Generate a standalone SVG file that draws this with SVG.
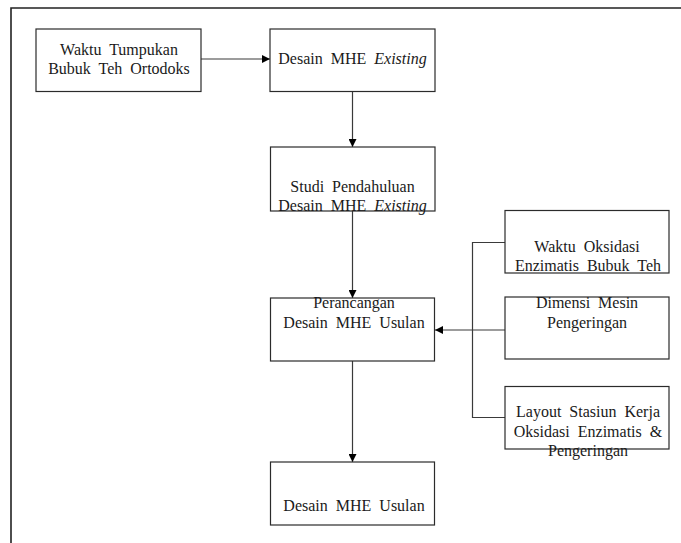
<svg xmlns="http://www.w3.org/2000/svg" width="681" height="543" viewBox="0 0 681 543">
<style>
.box{fill:#fff;stroke:#2b2b2b;stroke-width:1.2}
.t{font-size:16px;fill:#1a1a1a;text-anchor:middle;word-spacing:4px}
.i{font-style:italic}
.c{fill:none;stroke:#3a3a3a;stroke-width:1.2}
</style>
<defs>
<marker id="ah" viewBox="0 0 10 10" refX="10" refY="5" markerWidth="8" markerHeight="8" markerUnits="userSpaceOnUse" orient="auto">
<path d="M0,0 L10,5 L0,10 z" fill="#000"/>
</marker>
</defs>
<rect width="681" height="543" fill="#fff"/>
<g id="frame">
<path d="M11,543 V8 H681" fill="none" stroke="#222" stroke-width="1.6"/>
</g>
<g id="connectors">
<line class="c" x1="201" y1="59" x2="270" y2="59" marker-end="url(#ah)"/>
<line class="c" x1="352.5" y1="92" x2="352.5" y2="147" marker-end="url(#ah)"/>
<line class="c" x1="352.5" y1="211" x2="352.5" y2="298" marker-end="url(#ah)"/>
<line class="c" x1="352.5" y1="361" x2="352.5" y2="462" marker-end="url(#ah)"/>
<path class="c" d="M505,242.5 H472.5 V417.5 H505"/>
<line class="c" x1="505" y1="330" x2="435" y2="330" marker-end="url(#ah)"/>
</g>
<g font-family="Liberation Serif, Times New Roman, DejaVu Serif, serif">
<g id="n1">
<rect class="box" x="36" y="29" width="165" height="62.5"/>
<text class="t" x="119" y="55">Waktu Tumpukan</text>
<text class="t" x="119" y="73.5">Bubuk Teh Ortodoks</text>
</g>
<g id="n2">
<rect class="box" x="270" y="29" width="165" height="62.5"/>
<text class="t" x="352.5" y="64">Desain MHE <tspan class="i">Existing</tspan></text>
</g>
<g id="n3">
<rect class="box" x="270.5" y="147" width="164.5" height="64"/>
<text class="t" x="352.5" y="192">Studi Pendahuluan</text>
<text class="t" x="352.5" y="211">Desain MHE <tspan class="i">Existing</tspan></text>
</g>
<g id="n4">
<rect class="box" x="505" y="210.5" width="164" height="62.5"/>
<text class="t" x="587" y="252">Waktu Oksidasi</text>
<text class="t" x="588" y="271">Enzimatis Bubuk Teh</text>
</g>
<g id="n5">
<rect class="box" x="270.5" y="298" width="164" height="63"/>
<text class="t" x="354" y="308">Perancangan</text>
<text class="t" x="354" y="328">Desain MHE Usulan</text>
</g>
<g id="n6">
<rect class="box" x="505" y="297" width="164" height="62"/>
<text class="t" x="587" y="308">Dimensi Mesin</text>
<text class="t" x="587" y="328">Pengeringan</text>
</g>
<g id="n7">
<rect class="box" x="505" y="386.5" width="164" height="62.5"/>
<text class="t" x="588" y="417">Layout Stasiun Kerja</text>
<text class="t" x="588" y="437">Oksidasi Enzimatis &amp;</text>
<text class="t" x="588" y="456">Pengeringan</text>
</g>
<g id="n8">
<rect class="box" x="270.5" y="462" width="164" height="63"/>
<text class="t" x="354" y="511">Desain MHE Usulan</text>
</g>
</g>
</svg>
